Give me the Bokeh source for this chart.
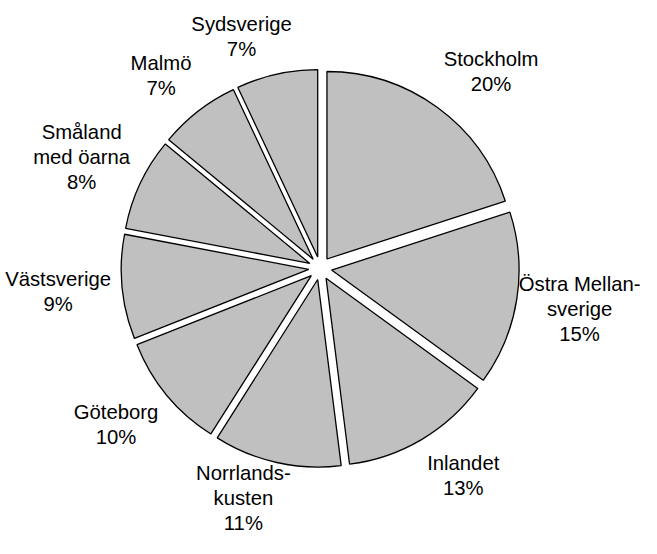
import math
from bokeh.plotting import figure
from bokeh.models import ColumnDataSource, Range1d
from bokeh.core.properties import value
from bokeh.embed import file_html
from bokeh.resources import INLINE

# ---- data -------------------------------------------------------------
categories = ["Stockholm", "Östra Mellan-\nsverige", "Inlandet", "Norrlands-\nkusten",
              "Göteborg", "Västsverige", "Småland\nmed öarna", "Malmö", "Sydsverige"]
shares = [20, 15, 13, 11, 10, 9, 8, 7, 7]

# ---- layout / style ---------------------------------------------------
W, H = 641, 538
CX, CY = 319.7, 267.8      # pie centre, px from top-left of the frame
R = 187.5                  # pie radius, px
EXPLODE = 11.5             # outward shift of every slice, px
ANCHOR_R = 210             # label anchor radius, px
FONT_PX = 20.3
LINE_H = 26.5              # wanted distance between text lines, px
LH_FACTOR = 1.14           # bokeh line height factor giving LINE_H
KX, KY = 3.0, 1.3
PAD = 1.0
FILL = "#c0c0c0"

# Arial advance widths (per 1000 em) for label width estimation
AW = {" ": 278, "%": 889, "-": 333, "S": 667, "M": 833, "V": 667, "G": 778, "N": 722,
      "I": 278, "Ö": 778, "a": 556, "b": 556, "c": 500, "d": 556, "e": 556, "g": 556,
      "h": 556, "i": 222, "k": 500, "l": 222, "m": 833, "n": 556, "o": 556, "r": 333,
      "s": 500, "t": 278, "u": 556, "v": 500, "y": 500, "å": 556, "ä": 556, "ö": 556}


def text_w(s):
    return sum(AW.get(ch, 556) for ch in s) / 1000.0 * FONT_PX


def clip(v):
    return max(-1.0, min(1.0, v))


total = float(sum(shares))
wd = dict(x=[], y=[], start=[], end=[])
ld = dict(x=[], y=[], text=[])
cum = 0.0
for cat, v in zip(categories, shares):
    s = cum / total * 2 * math.pi
    e = (cum + v) / total * 2 * math.pi
    cum += v
    mid = (s + e) / 2
    ux, uy = math.sin(mid), math.cos(mid)
    wd["x"].append(EXPLODE * ux)
    wd["y"].append(EXPLODE * uy)
    wd["start"].append(math.pi / 2 - s)
    wd["end"].append(math.pi / 2 - e)

    txt = f"{cat}\n{v}%"
    lines = txt.split("\n")
    w = max(text_w(t) for t in lines)
    h = len(lines) * LINE_H
    lx = ANCHOR_R * ux + w / 2 * clip(KX * ux)
    ly = ANCHOR_R * uy + h / 2 * clip(KY * uy)
    # keep the label box inside the frame
    sx, sy = CX + lx, CY - ly
    sx = min(max(sx, PAD + w / 2), W - PAD - w / 2)
    sy = min(max(sy, PAD + h / 2), H - PAD - h / 2)
    ld["x"].append(sx - CX)
    ld["y"].append(CY - sy)
    ld["text"].append(txt)

p = figure(width=W, height=H, output_backend="svg", toolbar_location=None,
           x_range=Range1d(-CX, W - CX), y_range=Range1d(-(H - CY), CY),
           x_axis_location=None, y_axis_location=None, min_border=0)
p.grid.visible = False
p.outline_line_color = None
p.background_fill_color = "white"
p.border_fill_color = "white"

p.wedge(x="x", y="y", radius=R, start_angle="start", end_angle="end",
        direction="clock", fill_color=FILL, line_color="black", line_width=1.3,
        source=ColumnDataSource(wd))

p.text(x="x", y="y", text="text", text_align="center", text_baseline="middle",
       text_font=value("Liberation Sans"), text_font_size=value(f"{FONT_PX}px"),
       text_line_height=LH_FACTOR, text_color="black",
       source=ColumnDataSource(ld))

open("out.html", "w").write(file_html(p, INLINE))
